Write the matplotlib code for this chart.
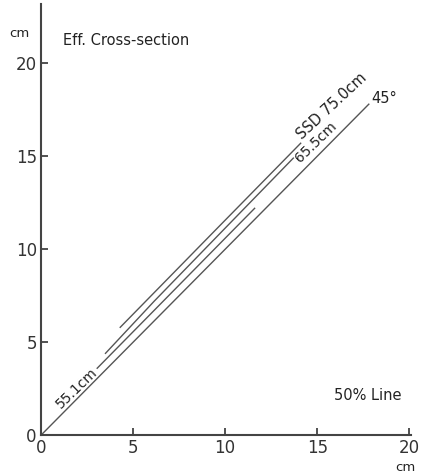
import matplotlib.pyplot as plt

x_75 = [4.3, 9.73, 14.1]
y_75 = [5.8, 11.29, 15.7]
x_655 = [3.5, 6.14, 9.73, 13.7]
y_655 = [4.4, 7.2, 10.86, 14.9]
x_551 = [3.05, 6.63, 9.73, 11.6]
y_551 = [3.6, 7.2, 10.32, 12.2]
x_45 = [0, 17.8]
y_45 = [0, 17.8]

ticks = [0, 5, 10, 15, 20]

fig = plt.figure(figsize=(4.23, 4.73), dpi=100)
ax = fig.add_axes([0.097, 0.080, 0.875, 0.912])

col = '#555555'
for xs, ys in [(x_75, y_75), (x_655, y_655), (x_551, y_551), (x_45, y_45)]:
    ax.plot(xs, ys, color=col, lw=1.0)

ax.set_xlim(0, 20.1)
ax.set_ylim(0, 23.2)
ax.set_xticks(ticks)
ax.set_yticks(ticks)
ax.tick_params(direction='in', length=5, width=1.2, color='#333333',
               labelsize=12, labelcolor='#333333', pad=3)
for s in ['top', 'right']:
    ax.spines[s].set_visible(False)
for s in ['left', 'bottom']:
    ax.spines[s].set_linewidth(1.5)
    ax.spines[s].set_color('#444444')

tc = '#222222'
ax.text(1.2, 21.2, 'Eff. Cross-section', fontsize=10.5, color=tc, va='center')
ax.text(-0.6, 21.6, 'cm', fontsize=9.5, color=tc, ha='right', va='center', clip_on=False)
ax.text(19.8, -1.75, 'cm', fontsize=9.5, color=tc, ha='center', va='center', clip_on=False)
ax.text(15.9, 2.15, '50% Line', fontsize=10.5, color=tc, va='center')
ax.text(1.95, 2.55, '55.1cm', fontsize=10, color=tc, rotation=44, ha='center', va='center')
ax.text(14.9, 15.75, '65.5cm', fontsize=10, color=tc, rotation=44, ha='center', va='center')
ax.text(15.8, 17.7, 'SSD 75.0cm', fontsize=10.5, color=tc, rotation=43, ha='center', va='center')
ax.text(17.95, 18.1, '45°', fontsize=10.5, color=tc, va='center')

fig.savefig('out.png', dpi=100)
